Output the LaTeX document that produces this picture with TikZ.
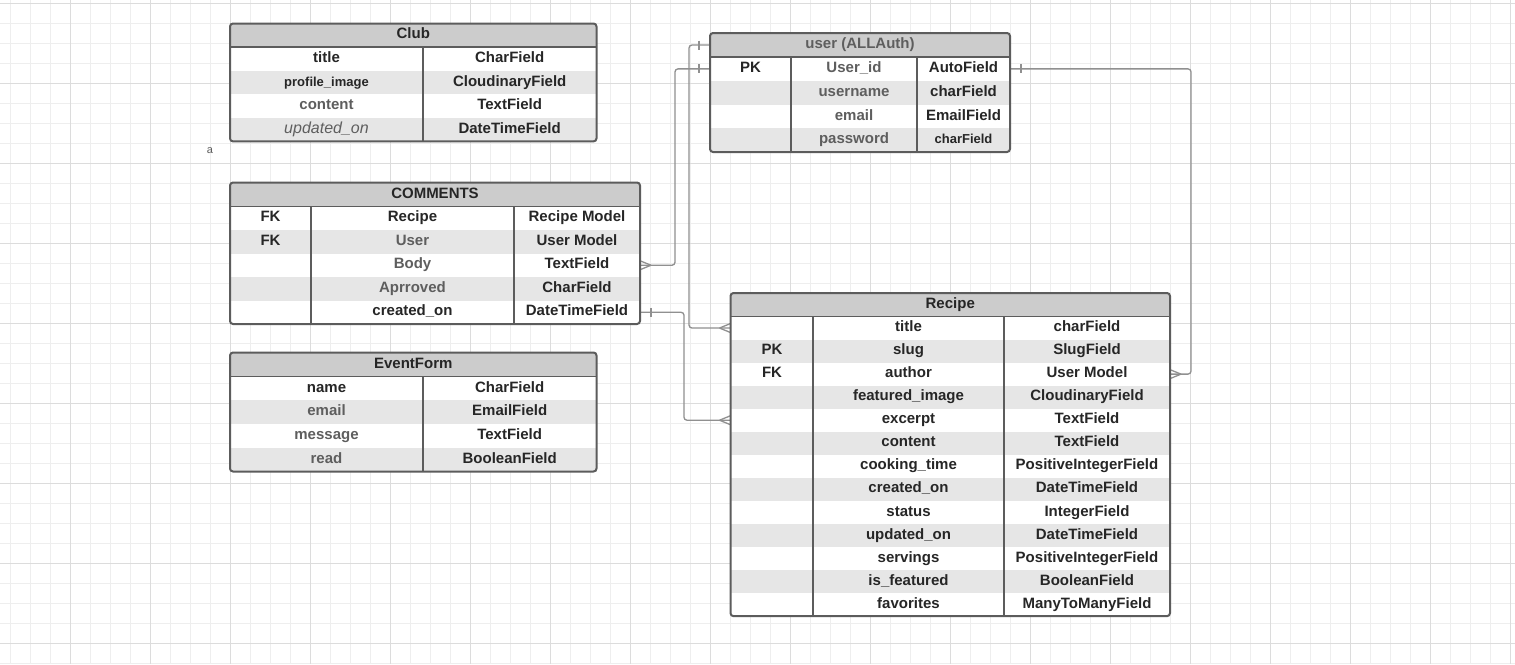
\documentclass[tikz,border=0pt]{standalone}
\usepackage{fontspec}
\setmainfont{Liberation Sans}
\usetikzlibrary{backgrounds}

\definecolor{gridminor}{HTML}{EEEEEE}
\definecolor{gridmajor}{HTML}{DCDCDC}
\definecolor{frameline}{HTML}{5C5C5C}
\definecolor{headfill}{HTML}{CCCCCC}
\definecolor{rowshade}{HTML}{E6E6E6}
\definecolor{inkdark}{HTML}{262626}
\definecolor{inkgrey}{HTML}{5E5E5E}
\definecolor{linkline}{HTML}{909090}

\tikzset{
  x=1pt, y=-1pt,
  tblfill/.style={fill=white, rounded corners=3pt, inner sep=0, outer sep=0},
  tblheadfill/.style={fill=headfill, rounded corners=3pt, inner sep=0, outer sep=0},
  rowbox/.style={inner sep=0, outer sep=0},
  tblborder/.style={draw=frameline, line width=2pt, rounded corners=3pt, inner sep=0, outer sep=0},
  divider/.style={draw=frameline, line width=1.6pt},
  cell/.style={inner sep=0, outer sep=0, text height=0.72em, text depth=0pt,
    font=\fontsize{15}{18}\selectfont\bfseries, text=inkdark},
  cellgrey/.style={cell, text=inkgrey},
  cellsmall/.style={cell, font=\fontsize{13}{16}\selectfont\bfseries},
  cellitalic/.style={cell, text=inkgrey, font=\fontsize{16}{18}\selectfont\itshape},
  headbox/.style={inner sep=0, outer sep=0, text height=0.72em, text depth=0pt,
    font=\fontsize{15}{18}\selectfont\bfseries},
  note/.style={inner sep=0, text=inkgrey, font=\fontsize{11}{13}\selectfont},
  linkstyle/.style={draw=linkline, line width=1.3pt, rounded corners=3pt},
  crowfoot/.pic={\draw[linkstyle] (-11,0) -- (0,-4.5) (-11,0) -- (0,4.5);},
  onebar/.pic={\draw[linkstyle] (-11,-4.5) -- (-11,4.5);},
}

% table body: white base and grey header band
% #1 name, #2 left, #3 right, #4 top, #5 header bottom, #6 bottom
\newcommand\eropen[6]{%
  \pgfmathsetmacro\erw{#3-#2}%
  \pgfmathsetmacro\erh{#6-#4}%
  \pgfmathsetmacro\erhh{#5-#4+4}%
  \node[tblfill, minimum width=\erw pt, minimum height=\erh pt] (#1-bg) at ({(#2+#3)/2},{(#4+#6)/2}) {};
  \node[tblheadfill, minimum width=\erw pt, minimum height=\erhh pt] (#1-hf) at ({(#2+#3)/2},{(#4+#5)/2+2}) {};
}
% one table row: #1 name, #2 left, #3 right, #4 top, #5 height, #6 fill
\newcommand\errow[6]{%
  \pgfmathsetmacro\erw{#3-#2}%
  \node[rowbox, fill=#6, minimum width=\erw pt, minimum height=#5pt] (#1) at ({(#2+#3)/2},{#4+#5/2}) {};
}
% header title, header rule and outer border
% #1 name, #2 left, #3 right, #4 top, #5 header bottom, #6 bottom, #7 title colour, #8 title
\newcommand\erclose[8]{%
  \pgfmathsetmacro\erw{#3-#2}%
  \pgfmathsetmacro\erh{#6-#4}%
  \pgfmathsetmacro\erhh{#5-#4}%
  \node[headbox, text=#7, minimum width=\erw pt, minimum height=\erhh pt] (#1-h) at ({(#2+#3)/2},{(#4+#5)/2}) {#8};
  \draw[divider] (#1-h.south west) -- (#1-h.south east);
  \node[tblborder, minimum width=\erw pt, minimum height=\erh pt] (#1) at ({(#2+#3)/2},{(#4+#6)/2}) {};
}

\begin{document}
\begin{tikzpicture}
\useasboundingbox (0,0) rectangle (1515,664);

% drawing-paper grid
\begin{scope}[on background layer]
  \fill[white] (0,0) rectangle (1515,664);
  \foreach \gx in {10,30,...,1510} \draw[gridminor, line width=0.8pt] (\gx,0) -- (\gx,664);
  \foreach \gy in {3,23,...,663} \draw[gridminor, line width=0.8pt] (0,\gy) -- (1515,\gy);
  \foreach \gx in {70,150,...,1510} \draw[gridmajor, line width=1pt] (\gx,0) -- (\gx,664);
  \foreach \gy in {3,83,...,643} \draw[gridmajor, line width=1pt] (0,\gy) -- (1515,\gy);
\end{scope}

\node[note] (note-a) at (210,151) {a};

% ---------- Club ----------
\eropen{club}{230}{596.5}{23.5}{47}{141.4}
\errow{club-r1}{230}{596.5}{47}{23.6}{white}
\errow{club-r2}{230}{596.5}{70.6}{23.6}{rowshade}
\errow{club-r3}{230}{596.5}{94.2}{23.6}{white}
\errow{club-r4}{230}{596.5}{117.8}{23.6}{rowshade}
\draw[divider] (423,47) -- (423,141.4);
\node[cell] (club-r1a) at (326.5,58.8) {title};
\node[cell] (club-r1b) at (509.7,58.8) {CharField};
\node[cellsmall] (club-r2a) at (326.5,82.4) {profile\_image};
\node[cell] (club-r2b) at (509.7,82.4) {CloudinaryField};
\node[cellgrey] (club-r3a) at (326.5,106) {content};
\node[cell] (club-r3b) at (509.7,106) {TextField};
\node[cellitalic] (club-r4a) at (326.5,129.6) {updated\_on};
\node[cell] (club-r4b) at (509.7,129.6) {DateTimeField};
\erclose{club}{230}{596.5}{23.5}{47}{141.4}{inkdark}{Club}

% ---------- COMMENTS ----------
\eropen{comments}{230}{640}{182.5}{206.5}{324}
\errow{comments-r1}{230}{640}{206.5}{23.5}{white}
\errow{comments-r2}{230}{640}{230}{23.5}{rowshade}
\errow{comments-r3}{230}{640}{253.5}{23.5}{white}
\errow{comments-r4}{230}{640}{277}{23.5}{rowshade}
\errow{comments-r5}{230}{640}{300.5}{23.5}{white}
\draw[divider] (311,206.5) -- (311,324);
\draw[divider] (514,206.5) -- (514,324);
\node[cell] (comments-r1k) at (270.5,218.25) {FK};
\node[cell] (comments-r1a) at (412.5,218.25) {Recipe};
\node[cell] (comments-r1b) at (577,218.25) {Recipe Model};
\node[cell] (comments-r2k) at (270.5,241.75) {FK};
\node[cellgrey] (comments-r2a) at (412.5,241.75) {User};
\node[cell] (comments-r2b) at (577,241.75) {User Model};
\node[cellgrey] (comments-r3a) at (412.5,265.25) {Body};
\node[cell] (comments-r3b) at (577,265.25) {TextField};
\node[cellgrey] (comments-r4a) at (412.5,288.75) {Aprroved};
\node[cell] (comments-r4b) at (577,288.75) {CharField};
\node[cell] (comments-r5a) at (412.5,312.25) {created\_on};
\node[cell] (comments-r5b) at (577,312.25) {DateTimeField};
\erclose{comments}{230}{640}{182.5}{206.5}{324}{inkdark}{COMMENTS}

% ---------- EventForm ----------
\eropen{event}{230}{596.5}{352.5}{376.5}{471.5}
\errow{event-r1}{230}{596.5}{376.5}{23.75}{white}
\errow{event-r2}{230}{596.5}{400.25}{23.75}{rowshade}
\errow{event-r3}{230}{596.5}{424}{23.75}{white}
\errow{event-r4}{230}{596.5}{447.75}{23.75}{rowshade}
\draw[divider] (423,376.5) -- (423,471.5);
\node[cell] (event-r1a) at (326.5,388.4) {name};
\node[cell] (event-r1b) at (509.7,388.4) {CharField};
\node[cellgrey] (event-r2a) at (326.5,412.1) {email};
\node[cell] (event-r2b) at (509.7,412.1) {EmailField};
\node[cellgrey] (event-r3a) at (326.5,435.9) {message};
\node[cell] (event-r3b) at (509.7,435.9) {TextField};
\node[cellgrey] (event-r4a) at (326.5,459.6) {read};
\node[cell] (event-r4b) at (509.7,459.6) {BooleanField};
\erclose{event}{230}{596.5}{352.5}{376.5}{471.5}{inkdark}{EventForm}

% ---------- user (ALLAuth) ----------
\eropen{user}{710}{1010}{33}{57}{152}
\errow{user-r1}{710}{1010}{57}{23.75}{white}
\errow{user-r2}{710}{1010}{80.75}{23.75}{rowshade}
\errow{user-r3}{710}{1010}{104.5}{23.75}{white}
\errow{user-r4}{710}{1010}{128.25}{23.75}{rowshade}
\draw[divider] (791,57) -- (791,152);
\draw[divider] (917,57) -- (917,152);
\node[cell] (user-r1k) at (750.5,68.9) {PK};
\node[cellgrey] (user-r1a) at (854,68.9) {User\_id};
\node[cell] (user-r1b) at (963.5,68.9) {AutoField};
\node[cellgrey] (user-r2a) at (854,92.6) {username};
\node[cell] (user-r2b) at (963.5,92.6) {charField};
\node[cellgrey] (user-r3a) at (854,116.4) {email};
\node[cell] (user-r3b) at (963.5,116.4) {EmailField};
\node[cellgrey] (user-r4a) at (854,140.1) {password};
\node[cellsmall] (user-r4b) at (963.5,140.1) {charField};
\erclose{user}{710}{1010}{33}{57}{152}{inkgrey}{user (ALLAuth)}

% ---------- Recipe ----------
\eropen{recipe}{730.5}{1170}{293}{316.5}{616.15}
\foreach \i [evaluate=\i as \ry using 316.5+23.05*(\i-1)] in {1,...,13}{
  \pgfmathsetmacro\shade{int(mod(\i,2))}
  \ifnum\shade=0
    \errow{recipe-r\i}{730.5}{1170}{\ry}{23.05}{rowshade}
  \else
    \errow{recipe-r\i}{730.5}{1170}{\ry}{23.05}{white}
  \fi
}
\draw[divider] (813,316.5) -- (813,616.15);
\draw[divider] (1004,316.5) -- (1004,616.15);
\node[cell] (recipe-r2k) at (772,351.1) {PK};
\node[cell] (recipe-r3k) at (772,374.1) {FK};
\foreach \i/\fname/\ftype in {
  1/title/charField, 2/slug/SlugField, 3/author/User Model,
  4/featured\_image/CloudinaryField, 5/excerpt/TextField, 6/content/TextField,
  7/cooking\_time/PositiveIntegerField, 8/created\_on/DateTimeField,
  9/status/IntegerField, 10/updated\_on/DateTimeField,
  11/servings/PositiveIntegerField, 12/is\_featured/BooleanField,
  13/favorites/ManyToManyField}{
  \node[cell] (recipe-r\i a) at (908.5,{316.5+23.05*(\i-0.5)}) {\fname};
  \node[cell] (recipe-r\i b) at (1087,{316.5+23.05*(\i-0.5)}) {\ftype};
}
\erclose{recipe}{730.5}{1170}{293}{316.5}{616.15}{inkdark}{Recipe}

% ---------- relationships ----------
\begin{scope}[on background layer]
  % user -> Recipe.title
  \draw[linkstyle] (user-h.west) -- ++(-21,0) |- (recipe-r1.west);
  \pic at (user-h.west) {onebar};
  \pic at (recipe-r1.west) {crowfoot};
  % user.User_id -> COMMENTS.Body
  \draw[linkstyle] (user-r1.west) -- ++(-35,0) |- (comments-r3.east);
  \pic at (user-r1.west) {onebar};
  \pic[xscale=-1] at (comments-r3.east) {crowfoot};
  % COMMENTS.created_on -> Recipe.excerpt
  \draw[linkstyle] (comments-r5.east) -- ++(44,0) |- (recipe-r5.west);
  \pic[xscale=-1] at (comments-r5.east) {onebar};
  \pic at (recipe-r5.west) {crowfoot};
  % user.User_id -> Recipe.author
  \draw[linkstyle] (user-r1.east) -- ++(181,0) |- (recipe-r3.east);
  \pic[xscale=-1] at (user-r1.east) {onebar};
  \pic[xscale=-1] at (recipe-r3.east) {crowfoot};
\end{scope}
\end{tikzpicture}
\end{document}
